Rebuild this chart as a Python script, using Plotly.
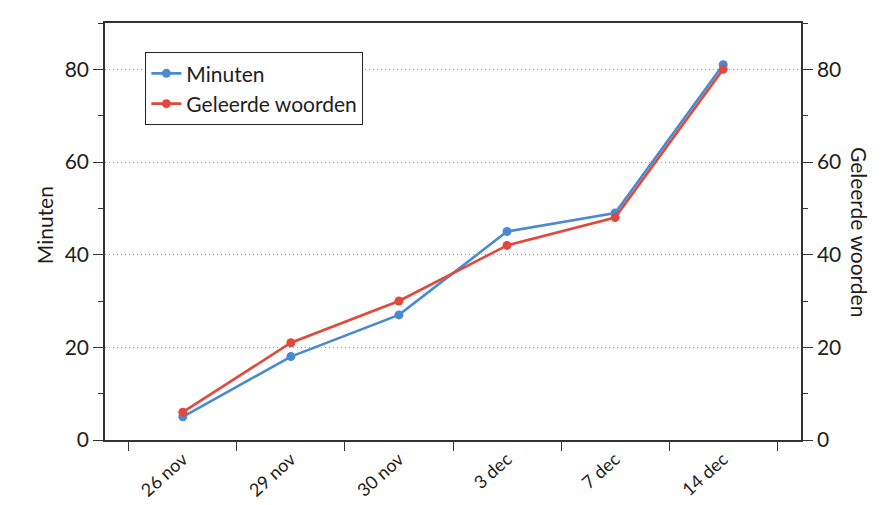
import plotly.graph_objects as go

categories = ["26 nov", "29 nov", "30 nov", "3 dec", "7 dec", "14 dec"]
minuten = [5, 18, 27, 45, 49, 81]
woorden = [6, 21, 30, 42, 48, 80]

BLUE = "#4a8ad0"
RED = "#e0493b"
FONT = "Lato, 'Open Sans', sans-serif"
AX = "#333333"
TXT = "#1e1e1e"

fig = go.Figure()
fig.add_trace(go.Scatter(x=categories, y=minuten, name="Minuten", mode="lines+markers",
                         line=dict(color=BLUE, width=2.6), marker=dict(size=9, color=BLUE),
                         yaxis="y"))
fig.add_trace(go.Scatter(x=categories, y=woorden, name="Geleerde woorden", mode="lines+markers",
                         line=dict(color=RED, width=2.6), marker=dict(size=9, color=RED),
                         yaxis="y2"))

yax = dict(range=[0, 90], dtick=20, tick0=0, ticks="outside", ticklen=10, tickwidth=1.2,
           tickcolor=AX, showline=True, linecolor=AX, linewidth=1.5,
           tickfont=dict(size=21, color=TXT), zeroline=False,
           minor=dict(dtick=10, ticklen=5, ticks="outside", tickcolor=AX, showgrid=False))

fig.update_layout(
    width=886, height=505,
    margin=dict(l=97, r=93, t=15, b=73),
    paper_bgcolor="white", plot_bgcolor="white",
    font=dict(family=FONT, color=TXT),
    showlegend=True,
    legend=dict(x=0.058, y=0.93, xanchor="left", yanchor="top",
                bordercolor="#222", borderwidth=1, bgcolor="white",
                font=dict(size=21, color=TXT)),
    xaxis=dict(type="category", range=[-0.72, 5.72], tickson="boundaries",
               ticks="outside", ticklen=9, tickwidth=1.2, tickcolor=AX,
               showline=True, linecolor=AX, linewidth=1.5, mirror=True,
               showgrid=False, tickangle=-42, automargin=False,
               tickfont=dict(size=18, color=TXT)),
    yaxis=dict(**yax, showgrid=True, gridcolor="#9a9a9a", griddash="1px,3px", gridwidth=1,
               automargin=False),
    yaxis2=dict(**yax, overlaying="y", side="right", showgrid=False, automargin=False),
    annotations=[
        dict(text="Minuten", x=-0.108, xref="paper", y=0.516, yref="paper",
             showarrow=False, textangle=-90, font=dict(size=21, color=TXT)),
        dict(text="Geleerde woorden", x=1.105, xref="paper", y=0.5, yref="paper",
             showarrow=False, textangle=90, font=dict(size=21, color=TXT)),
    ],
)

fig.write_html("out.html")
